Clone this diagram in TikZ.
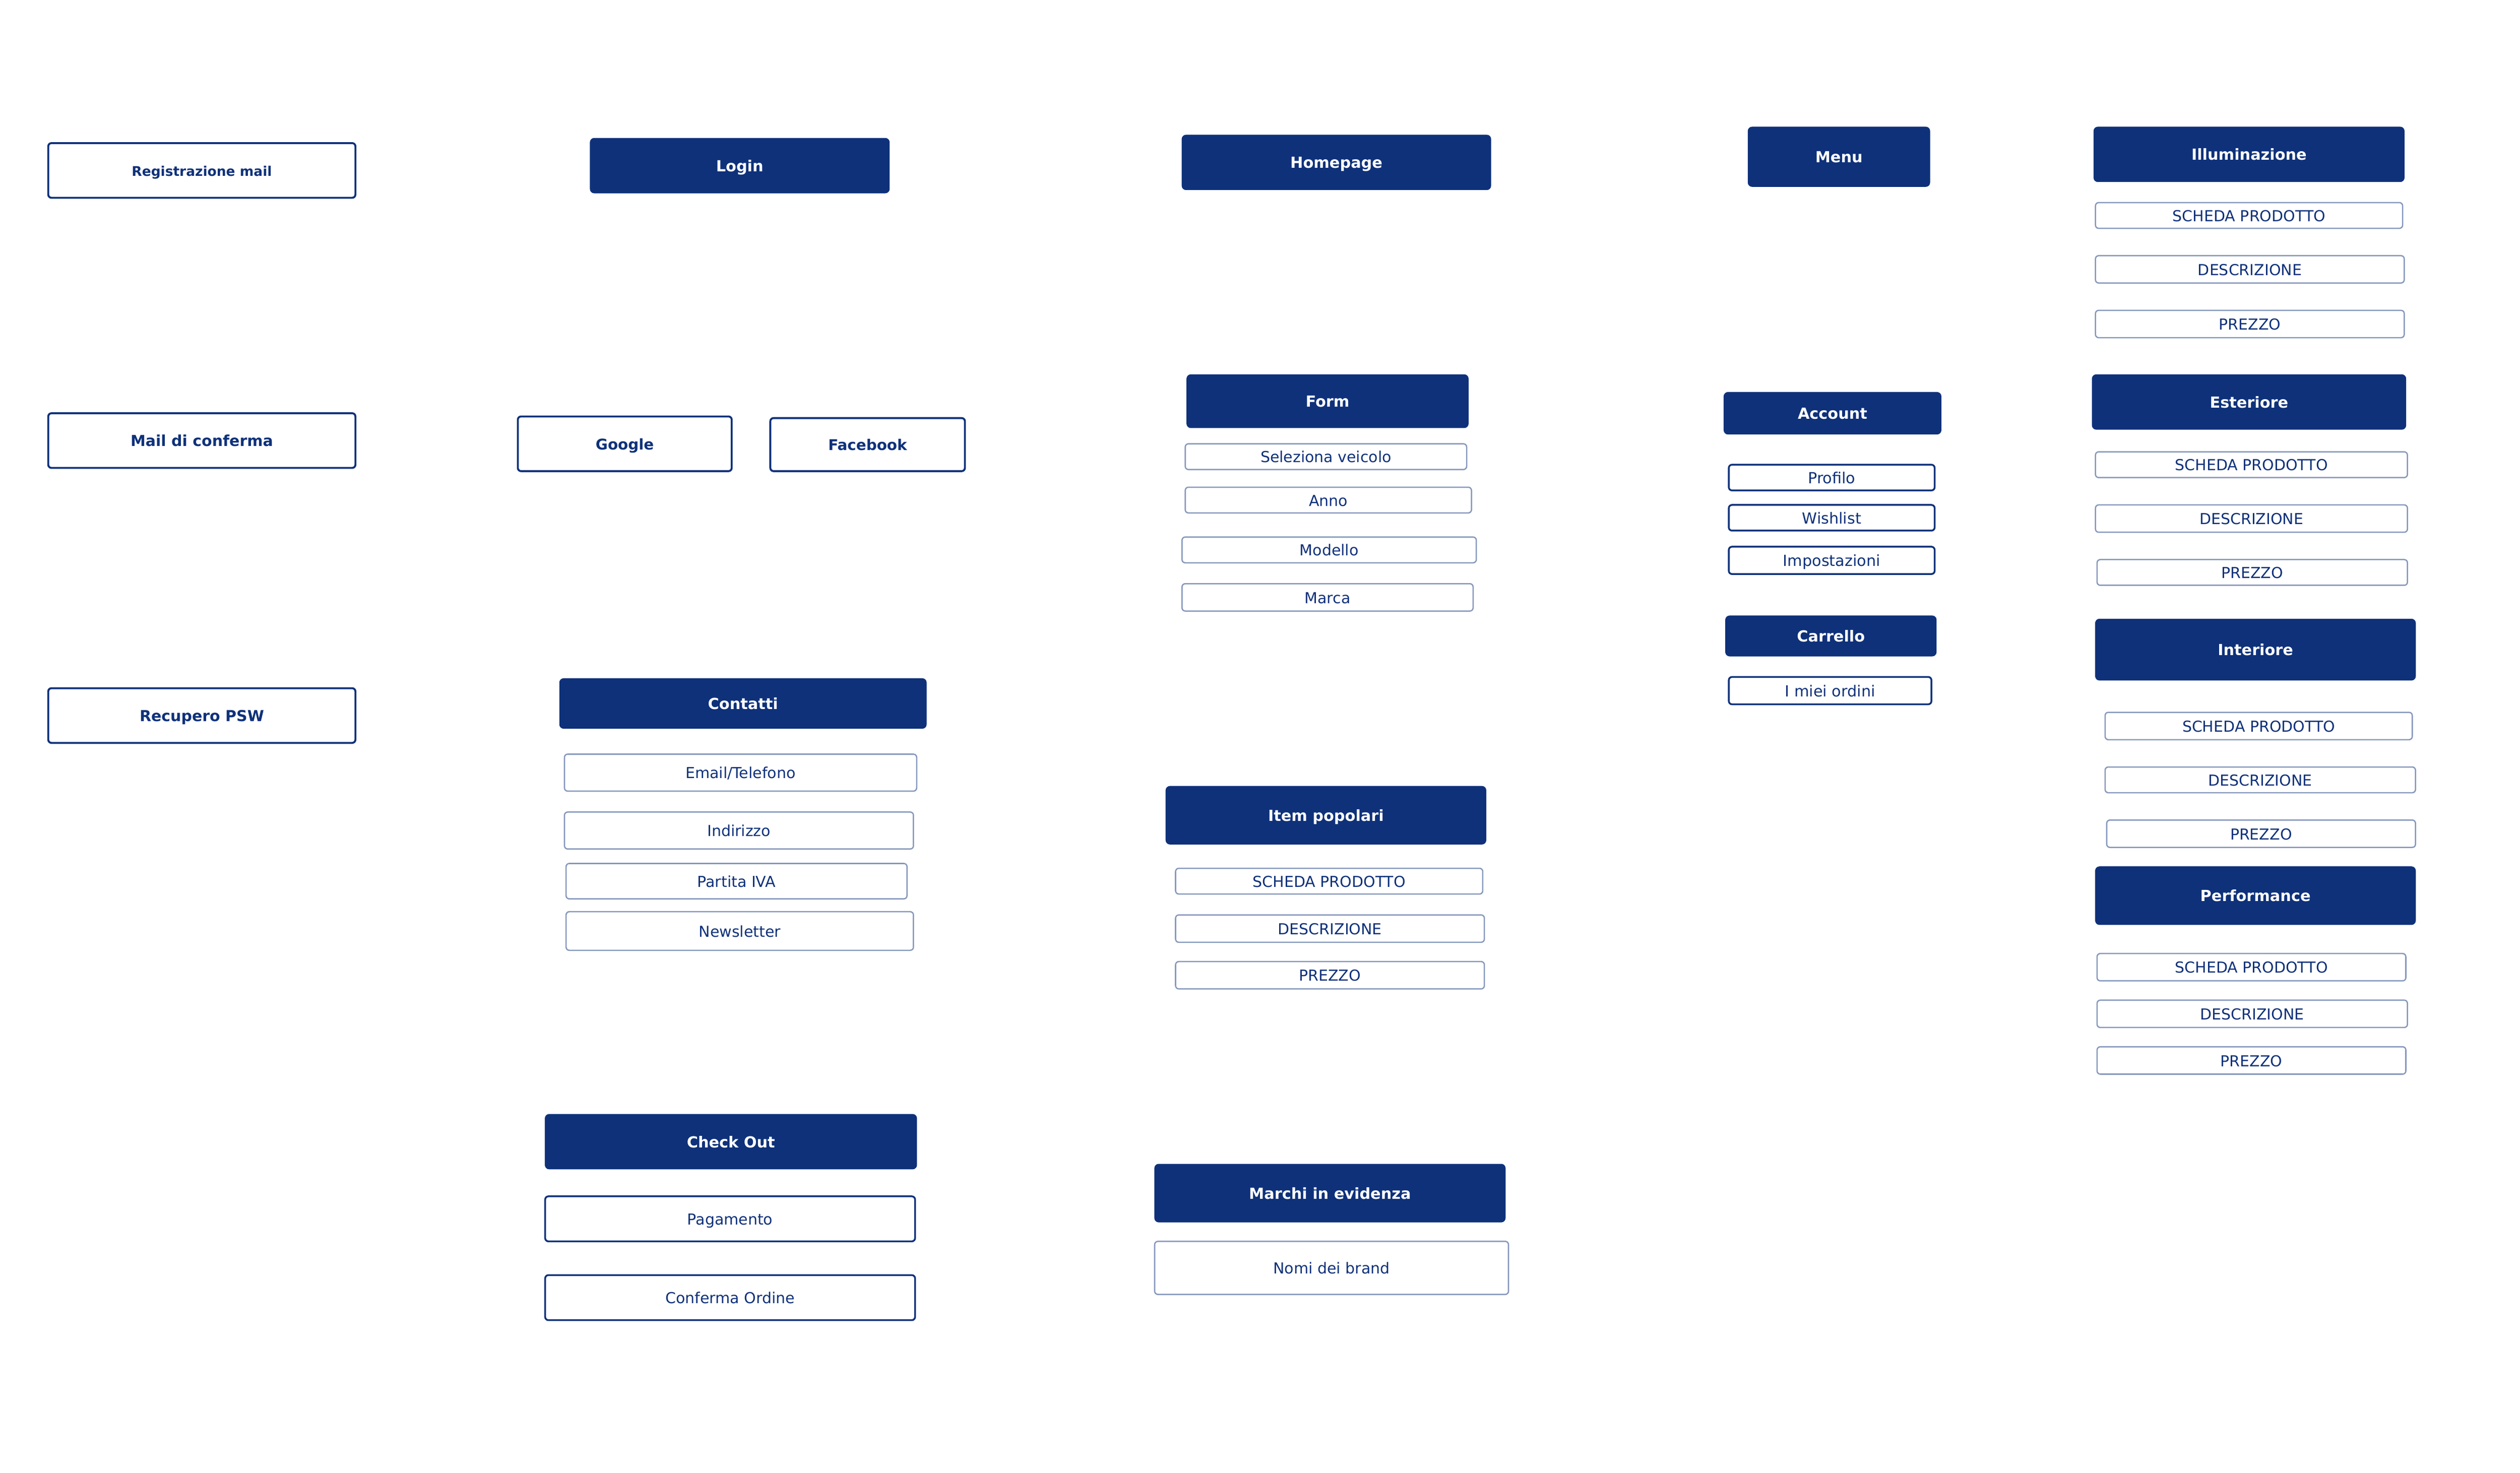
\documentclass[tikz,border=0pt]{standalone}
\usepackage{fontspec}
\setmainfont{DejaVu Sans}
\definecolor{navy}{RGB}{14,49,122}
\newcommand\mkbox[7]{%
  \pgfmathsetmacro\bxcx{(#3+#4)/2}\pgfmathsetmacro\bxcy{(#5+#6)/2}%
  \pgfmathsetmacro\bxw{#4-#3}\pgfmathsetmacro\bxh{#6-#5}%
  \node[#1, minimum width=\bxw pt, minimum height=\bxh pt] (#2) at (\bxcx,\bxcy) {#7};}
\tikzset{
  base/.style={inner sep=0pt, text height=0.93em, text depth=0.2em},
  hdr/.style={base, fill=navy, draw=navy, rounded corners=2.5pt, text=white,
    font=\fontsize{9.5}{11}\selectfont\bfseries},
  obox/.style={base, draw=navy, line width=1.2pt, rounded corners=2pt, fill=white,
    text=navy, font=\fontsize{9.2}{11}\selectfont\bfseries},
  pbox/.style={base, draw=navy, line width=1.1pt, rounded corners=2pt, fill=white,
    text=navy, font=\fontsize{9.4}{11}\selectfont},
  abox/.style={base, draw=navy, line width=1.1pt, rounded corners=2pt, fill=white,
    text=navy, font=\fontsize{9.5}{11}\selectfont},
  dbox/.style={base, draw=navy!50, line width=0.8pt, rounded corners=2pt, fill=white,
    text=navy, font=\fontsize{9.4}{11}\selectfont}
}
\begin{document}
\begin{tikzpicture}[x=1pt,y=-1pt]
\useasboundingbox[fill=white] (0,0) rectangle (1567,915.9);
% column 1
\mkbox{obox,font=\fontsize{8.3}{10}\selectfont\bfseries}{reg}{30}{221}{89}{123}{Registrazione mail}
\mkbox{obox,font=\fontsize{9.4}{11}\selectfont\bfseries}{conf}{30}{221}{257}{291}{Mail di conferma}
\mkbox{obox,font=\fontsize{9.4}{11}\selectfont\bfseries}{rec}{30}{221}{428}{462}{Recupero PSW}
% column 2
\mkbox{hdr}{login}{367}{553}{86}{120}{Login}
\mkbox{obox}{google}{322}{455}{259}{293}{Google}
\mkbox{obox}{facebook}{479}{600}{260}{293}{Facebook}
\mkbox{hdr}{contatti}{348}{576}{422}{453}{Contatti}
\mkbox{dbox}{email}{351}{570}{469}{492}{Email/Telefono}
\mkbox{dbox}{indirizzo}{351}{568}{505}{528}{Indirizzo}
\mkbox{dbox}{piva}{352}{564}{537}{559}{Partita IVA}
\mkbox{dbox}{newsletter}{352}{568}{567}{591}{Newsletter}
\mkbox{hdr}{checkout}{339}{570}{693}{727}{Check Out}
\mkbox{pbox}{pagamento}{339}{569}{744}{772}{Pagamento}
\mkbox{pbox}{confordine}{339}{569}{793}{821}{Conferma Ordine}
% column 3
\mkbox{hdr}{homepage}{735}{927}{84}{118}{Homepage}
\mkbox{hdr}{form}{738}{913}{233}{266}{Form}
\mkbox{dbox}{veicolo}{737}{912}{276}{292}{Seleziona veicolo}
\mkbox{dbox}{anno}{737}{915}{303}{319}{Anno}
\mkbox{dbox}{modello}{735}{918}{334}{350}{Modello}
\mkbox{dbox}{marca}{735}{916}{363}{380}{Marca}
\mkbox{hdr}{itempop}{725}{924}{489}{525}{Item popolari}
\mkbox{dbox}{ipA}{731}{922}{540}{556}{SCHEDA PRODOTTO}
\mkbox{dbox}{ipB}{731}{923}{569}{586}{DESCRIZIONE}
\mkbox{dbox}{ipC}{731}{923}{598}{615}{PREZZO}
\mkbox{hdr}{marchi}{718}{936}{724}{760}{Marchi in evidenza}
\mkbox{dbox}{brand}{718}{938}{772}{805}{Nomi dei brand}
% column 4
\mkbox{hdr}{menu}{1087}{1200}{79}{116}{Menu}
\mkbox{hdr}{account}{1072}{1207}{244}{270}{Account}
\mkbox{abox}{profilo}{1075}{1203}{289}{305}{Profilo}
\mkbox{abox}{wishlist}{1075}{1203}{314}{330}{Wishlist}
\mkbox{abox}{impost}{1075}{1203}{340}{357}{Impostazioni}
\mkbox{hdr}{carrello}{1073}{1204}{383}{408}{Carrello}
\mkbox{abox}{ordini}{1075}{1201}{421}{438}{I miei ordini}
% column 5
\mkbox{hdr}{illum}{1302}{1495}{79}{113}{Illuminazione}
\mkbox{dbox}{ilA}{1303}{1494}{126}{142}{SCHEDA PRODOTTO}
\mkbox{dbox}{ilB}{1303}{1495}{159}{176}{DESCRIZIONE}
\mkbox{dbox}{ilC}{1303}{1495}{193}{210}{PREZZO}
\mkbox{hdr}{esteriore}{1301}{1496}{233}{267}{Esteriore}
\mkbox{dbox}{esA}{1303}{1497}{281}{297}{SCHEDA PRODOTTO}
\mkbox{dbox}{esB}{1303}{1497}{314}{331}{DESCRIZIONE}
\mkbox{dbox}{esC}{1304}{1497}{348}{364}{PREZZO}
\mkbox{hdr}{interiore}{1303}{1502}{385}{423}{Interiore}
\mkbox{dbox}{inA}{1309}{1500}{443}{460}{SCHEDA PRODOTTO}
\mkbox{dbox}{inB}{1309}{1502}{477}{493}{DESCRIZIONE}
\mkbox{dbox}{inC}{1310}{1502}{510}{527}{PREZZO}
\mkbox{hdr}{perf}{1303}{1502}{539}{575}{Performance}
\mkbox{dbox}{peA}{1304}{1496}{593}{610}{SCHEDA PRODOTTO}
\mkbox{dbox}{peB}{1304}{1497}{622}{639}{DESCRIZIONE}
\mkbox{dbox}{peC}{1304}{1496}{651}{668}{PREZZO}
\end{tikzpicture}
\end{document}
